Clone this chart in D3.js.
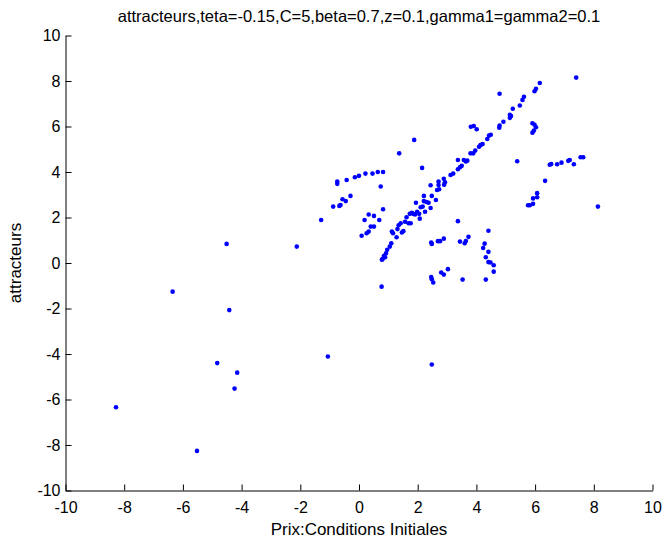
<!DOCTYPE html>
<html>
<head>
<meta charset="utf-8">
<script src="https://cdn.jsdelivr.net/npm/d3@7"></script>
<style>
  html, body { margin: 0; padding: 0; background: #ffffff; }
  svg { display: block; }
  text { font-family: "Liberation Sans", Arial, Helvetica, sans-serif; fill: #000; }
</style>
</head>
<body>
<svg id="chart" width="664" height="542"></svg>
<script>
// ---- data ----
const titleText = "attracteurs,teta=-0.15,C=5,beta=0.7,z=0.1,gamma1=gamma2=0.1";
const xLabelText = "Prix:Conditions Initiales";
const yLabelText = "attracteurs";
const xTicks = [-10, -8, -6, -4, -2, 0, 2, 4, 6, 8, 10];
const yTicks = [-10, -8, -6, -4, -2, 0, 2, 4, 6, 8, 10];

const xValues = [
  1.37, 1.88, 2.15, 0.74, -0.74, -0.74, -0.42, -0.14, 0.00, 0.22, 0.46, 0.64, 0.82, -0.56, -0.29,
  2.44, 2.21, 2.48, 2.71, 2.71, 2.66, 2.73, 2.89, 2.93, 2.90, 3.12, 3.21, 3.37, 3.44, 3.50,
  3.37, 3.57, 3.64, 3.69, 3.80, 3.89, 3.96, 4.09, 3.81, 3.91, 4.01,
  7.40, 6.16, 6.03, 5.98, 4.79, 5.62, 5.57, 5.48, 5.24, 5.14, 5.18, 5.14, 4.92, 4.79, 4.78,
  4.49, 4.43, 4.37, 4.21, 4.14, 5.91, 5.98, 6.03, 5.96, 5.91, 5.39, 6.50, 6.55, 6.75, 6.90,
  7.13, 7.18, 7.32, 7.55, 7.64, 6.34, 6.07, 6.07, 5.93,
  5.93, 5.76, 5.82, 8.14, 4.41, 3.73, 3.64, 3.60, 3.44, 4.28, 4.23, 4.41, 4.32, 4.41, 4.48,
  4.59, 4.59, 3.53, 4.32,
  -0.45, -0.67, -0.88, -0.63, -1.29, 0.82, 0.33, 0.51, 0.19, 0.69, 0.40, 0.51, 0.33, 0.26, 0.09,
  1.12, 1.16, 1.28, 1.31, 1.35, 1.42, 1.57, 1.51, 1.46, 1.62, 1.69, 1.76, 1.73, 1.80, 1.85,
  1.91, 1.98, 2.05, 2.07, 1.94, 2.10, 2.17, 2.21, 2.30, 2.37, 2.25, 2.44, 2.62,
  1.10, 1.05, 0.96, 0.92, 0.85, 0.80, 0.78, 0.89,
  2.46, 2.48, 2.69, 2.76, 2.89, 3.37, 2.46, 2.48, 2.53, 2.80, 2.89, 3.03, 0.77,
  -4.51, -2.12, -6.35, -4.42, -1.06, -4.83, -4.15, -4.24, -8.28, -5.52, 2.48
];
const yValues = [
  4.82, 5.41, 4.18, 3.36, 3.58, 3.48, 3.65, 3.77, 3.83, 3.93, 3.93, 4.00, 4.00, 2.80, 2.95,
  3.42, 2.95, 2.95, 3.58, 3.43, 3.21, 3.24, 3.70, 3.55, 3.44, 3.87, 3.93, 4.12, 4.21, 4.27,
  4.53, 4.53, 4.46, 4.50, 4.82, 4.82, 4.94, 5.11, 5.99, 6.02, 5.88,
  8.15, 7.91, 7.66, 7.55, 7.44, 7.31, 7.17, 6.92, 6.78, 6.51, 6.46, 6.38, 6.21, 6.04, 5.95,
  5.64, 5.60, 5.45, 5.23, 5.18, 6.14, 6.08, 5.97, 5.82, 5.73, 4.47, 4.32, 4.35, 4.34, 4.41,
  4.49, 4.53, 4.34, 4.65, 4.65, 3.61, 3.07, 2.89, 2.84,
  2.60, 2.54, 2.54, 2.48, 1.42, 1.15, 0.97, 0.87, 0.94, 0.85, 0.66, 0.49, 0.25, 0.04, 0.02,
  -0.10, -0.38, -0.73, -0.73,
  2.72, 2.51, 2.48, 2.55, 1.89, 2.36, 2.13, 2.07, 1.89, 1.89, 1.60, 1.60, 1.38, 1.31, 1.20,
  1.38, 1.31, 1.13, 1.49, 1.66, 1.75, 1.81, 1.40, 1.34, 2.01, 1.75, 1.75, 2.16, 2.21, 2.16,
  2.13, 2.25, 2.16, 1.95, 2.65, 2.45, 2.48, 2.72, 2.68, 2.65, 2.25, 2.42, 2.77,
  0.87, 0.72, 0.58, 0.43, 0.31, 0.17, 0.14, 0.25,
  0.90, 0.84, 0.96, 0.96, 1.07, 1.84, -0.62, -0.71, -0.86, -0.42, -0.51, -0.27, -1.04,
  0.84, 0.72, -1.26, -2.07, -4.11, -4.40, -4.82, -5.52, -6.34, -8.26, -4.46
];

// ---- layout ----
const svg = d3.select("#chart");
const plotLeft = 65.5, plotRight = 652.5, plotTop = 35.5, plotBottom = 490.5;

const x = d3.scaleLinear().domain([-10, 10]).range([plotLeft, plotRight]);
const y = d3.scaleLinear().domain([-10, 10]).range([plotBottom, plotTop]);
const fmt = d => String(d);   // plain hyphen-minus like the reference

// points
const pts = xValues.map((v, i) => [v, yValues[i]]);
svg.append("g")
  .selectAll("circle")
  .data(pts)
  .join("circle")
  .attr("cx", d => x(d[0]))
  .attr("cy", d => y(d[1]))
  .attr("r", 2.3)
  .attr("fill", "#0000ff");

// x axis (ticks pointing inward)
const xAxis = d3.axisBottom(x).tickValues(xTicks).tickSizeInner(-6).tickSizeOuter(0).tickFormat(fmt);
const gx = svg.append("g").attr("transform", `translate(0,${plotBottom})`).call(xAxis);
gx.select(".domain").attr("stroke", "#000").attr("stroke-width", 1);
gx.selectAll(".tick line").attr("stroke", "#000");
gx.selectAll(".tick text").attr("font-size", 16).attr("font-family", "Liberation Sans, Arial, sans-serif")
  .attr("dy", "0.71em").attr("y", 11);

// y axis
const yAxis = d3.axisLeft(y).tickValues(yTicks).tickSizeInner(-6).tickSizeOuter(0).tickFormat(fmt);
const gy = svg.append("g").attr("transform", `translate(${plotLeft},0)`).call(yAxis);
gy.select(".domain").attr("stroke", "#000").attr("stroke-width", 1);
gy.selectAll(".tick line").attr("stroke", "#000");
gy.selectAll(".tick text").attr("font-size", 16).attr("font-family", "Liberation Sans, Arial, sans-serif")
  .attr("x", -5);

// title
svg.append("text")
  .attr("x", (plotLeft + plotRight) / 2)
  .attr("y", 22)
  .attr("text-anchor", "middle")
  .attr("font-size", 16.5)
  .text(titleText);

// x label
svg.append("text")
  .attr("x", (plotLeft + plotRight) / 2)
  .attr("y", 535)
  .attr("text-anchor", "middle")
  .attr("font-size", 17)
  .text(xLabelText);

// y label
svg.append("text")
  .attr("transform", `translate(21,${(plotTop + plotBottom) / 2}) rotate(-90)`)
  .attr("text-anchor", "middle")
  .attr("font-size", 17)
  .text(yLabelText);
</script>
</body>
</html>
